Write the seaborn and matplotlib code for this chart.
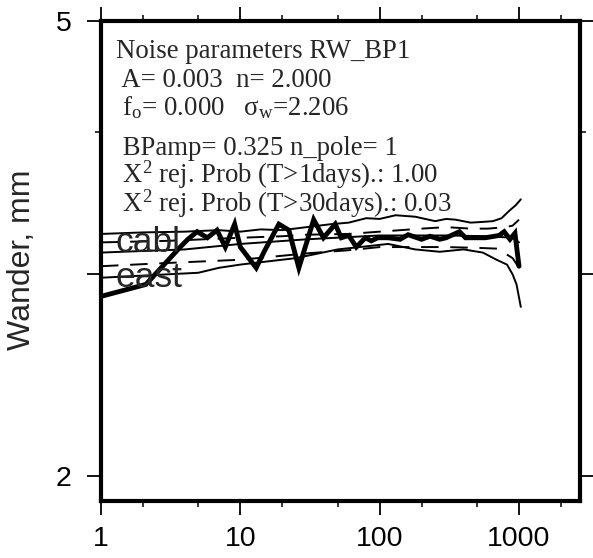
import matplotlib
matplotlib.use("Agg")
import matplotlib.pyplot as plt
import seaborn as sns
import pandas as pd
from matplotlib.ticker import FixedLocator, NullFormatter, FixedFormatter

# ---------------- data ----------------
obs_period = [1, 2.1, 3.7, 4.2, 4.9, 5.8, 6.8, 7.8, 9.1, 10,
              13, 14.8, 18.9, 22.3, 26.3, 33.6, 39.5, 48, 53, 60,
              68, 79, 87, 97, 115, 140, 160, 200, 230, 270,
              300, 374, 413, 573, 720, 782, 861, 935, 1000]
obs_wander = [2.87, 2.94, 3.17, 3.22, 3.27, 3.23, 3.28, 3.17, 3.32, 3.17,
              3.04, 3.14, 3.32, 3.28, 3.04, 3.35, 3.23, 3.32, 3.23, 3.245,
              3.17, 3.23, 3.21, 3.23, 3.23, 3.22, 3.25, 3.22, 3.24, 3.22,
              3.23, 3.27, 3.23, 3.23, 3.245, 3.27, 3.22, 3.26, 3.05]

hi2_period = [1, 2, 4, 7, 10, 14, 20, 30, 45, 60, 80, 100, 130, 180, 250, 300, 350, 450, 550, 650, 750, 850, 950, 1030]
hi2_wander = [3.255, 3.265, 3.27, 3.28, 3.27, 3.285, 3.28, 3.30, 3.32, 3.33, 3.36, 3.355, 3.38, 3.37, 3.34, 3.355, 3.35, 3.33, 3.335, 3.34, 3.36, 3.41, 3.45, 3.49]

hi1_period = [1, 3, 10, 20, 30, 60, 100, 200, 300, 450, 600, 800, 900, 1000]
hi1_wander = [3.20, 3.21, 3.23, 3.24, 3.25, 3.255, 3.27, 3.29, 3.30, 3.29, 3.29, 3.30, 3.31, 3.35]

mod_period = [1, 4, 10, 30, 100, 300, 600, 900, 1000]
mod_wander = [3.135, 3.155, 3.19, 3.22, 3.245, 3.245, 3.24, 3.23, 3.20]

lo1_period = [1, 3, 10, 20, 30, 60, 100, 300, 500, 700, 900, 1000]
lo1_wander = [3.05, 3.07, 3.09, 3.115, 3.13, 3.15, 3.17, 3.17, 3.165, 3.16, 3.10, 3.04]

lo2_period = [1, 5, 7, 10, 25, 50, 115, 180, 270, 400, 550, 690, 820, 900, 960, 1030]
lo2_wander = [2.98, 3.01, 3.04, 3.06, 3.10, 3.155, 3.19, 3.155, 3.14, 3.155, 3.135, 3.09, 3.06, 3.00, 2.94, 2.81]

x_ticks = [1, 10, 100, 1000]
x_ticklabels = ["1", "10", "100", "1000"]
y_ticks = [2, 3, 5]
y_ticklabels = ["2", "", "5"]

info_lines = [
    "Noise parameters RW_BP1",
    " A= 0.003  n= 2.000",
    " f$_{o}$= 0.000   σ$_{w}$=2.206",
    " BPamp= 0.325 n_pole= 1",
    " X$^{2}$ rej. Prob (T>1days).: 1.00",
    " X$^{2}$ rej. Prob (T>30days).: 0.03",
]

# ---------------- style ----------------
sns.set_style("ticks")
plt.rcParams["font.family"] = ["Liberation Sans", "DejaVu Sans"]
plt.rcParams["mathtext.default"] = "regular"

W, H = 593, 558
fig = plt.figure(figsize=(W / 100, H / 100), dpi=100)
left, right, top, bottom = 101, 580, 21, 501
ax = fig.add_axes([left / W, 1 - bottom / H, (right - left) / W, (bottom - top) / H])

thin = 1.4
series = [
    (hi2_period, hi2_wander, "-", thin),
    (hi1_period, hi1_wander, (0, (9, 6)), thin),
    (mod_period, mod_wander, "-", thin),
    (lo1_period, lo1_wander, (0, (9, 6)), thin),
    (lo2_period, lo2_wander, "-", thin),
]
for px, py, ls, lw in series:
    df = pd.DataFrame({"period": px, "wander": py})
    sns.lineplot(data=df, x="period", y="wander", ax=ax, color="black",
                 linewidth=lw, linestyle=ls, sort=False, errorbar=None)

df_obs = pd.DataFrame({"period": obs_period, "wander": obs_wander})
sns.lineplot(data=df_obs, x="period", y="wander", ax=ax, color="black",
             linewidth=3.5, sort=False, errorbar=None, solid_joinstyle="miter")

ax.set_xscale("log")
ax.set_yscale("log")
ax.set_xlim(1, 2740)
ax.set_ylim(1.90, 5)

ax.xaxis.set_major_locator(FixedLocator(x_ticks))
ax.xaxis.set_major_formatter(FixedFormatter(x_ticklabels))
ax.xaxis.set_minor_locator(FixedLocator([2, 5, 20, 50, 200, 500, 2000]))
ax.xaxis.set_minor_formatter(NullFormatter())
ax.yaxis.set_major_locator(FixedLocator(y_ticks))
ax.yaxis.set_major_formatter(FixedFormatter(y_ticklabels))
ax.yaxis.set_minor_locator(FixedLocator([4]))
ax.yaxis.set_minor_formatter(NullFormatter())

ax.tick_params(which="major", direction="out", length=10, width=1.3,
               top=True, right=True, labelsize=20.5, colors="black")
ax.tick_params(which="minor", direction="out", length=4.5, width=1.3,
               top=True, right=True)
ax.tick_params(axis="x", which="major", pad=8)
ax.tick_params(axis="y", which="major", pad=11)

for sp in ax.spines.values():
    sp.set_linewidth(3.0)
    sp.set_color("black")
    sp.set_visible(True)

ax.set_xlabel("")
ax.set_ylabel("")
fig.text(22 / W, 1 - 260 / H, "Wander, mm", rotation=90, fontsize=23,
         va="center", ha="center")

ax.text(1.28, 3.137, "cabl", fontsize=25.5, va="baseline", ha="left")
ax.text(1.28, 2.925, "east", fontsize=25.5, va="baseline", ha="left")

baselines = [58, 87, 115, 155, 183, 212]
for txt, yb in zip(info_lines, baselines):
    fig.text(116 / W, 1 - yb / H, txt, family="Liberation Serif",
             fontsize=19.3, va="baseline", ha="left")

fig.savefig("out.png", dpi=100)
